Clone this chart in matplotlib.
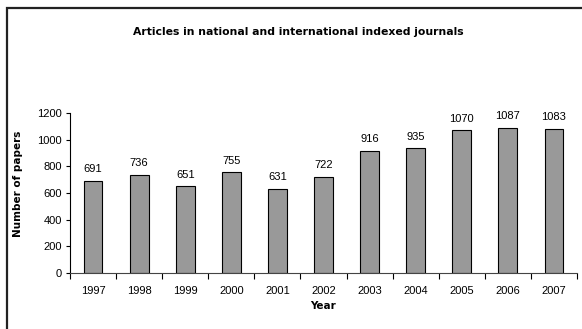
import matplotlib.pyplot as plt
import numpy as np
from matplotlib.patches import Rectangle

years = ["1997", "1998", "1999", "2000", "2001", "2002", "2003", "2004", "2005", "2006", "2007"]
papers = [691, 736, 651, 755, 631, 722, 916, 935, 1070, 1087, 1083]

W, H = 582, 329
fig = plt.figure(figsize=(W / 100, H / 100), dpi=100)

# outer chart frame (only top and left edges visible in the source)
fig.patches.append(Rectangle((6.5 / W, -0.1), 1.2, 1.1 - 8.5 / H,
                             transform=fig.transFigure, fill=False,
                             edgecolor="#222222", linewidth=1.6))

ax = fig.add_axes([70 / W, 1 - 273 / H, (577 - 70) / W, (273 - 113) / H])

x = np.arange(len(years))
ax.bar(x, papers, width=0.41, color="#999999", edgecolor="black", linewidth=0.8, zorder=2)

for xi, v in zip(x, papers):
    ax.text(xi, v + 50, str(v), ha="center", va="bottom", fontsize=8, family="Liberation Sans")

ax.set_xlim(-0.5, len(years) - 0.5)
ax.set_ylim(0, 1200)
ax.set_yticks(np.arange(0, 1201, 200))
ax.set_yticklabels([str(t) for t in range(0, 1201, 200)], fontsize=8, family="Liberation Sans")

ax.set_xticks(x)
ax.set_xticklabels(years, fontsize=8, family="Liberation Sans")
ax.set_xticks(np.arange(-0.5, len(years)), minor=True)
ax.tick_params(axis="x", which="major", length=0, pad=9)
ax.tick_params(axis="x", which="minor", length=4, direction="out", width=0.8)
ax.tick_params(axis="y", length=3, width=0.8, pad=3)

for s in ["top", "right"]:
    ax.spines[s].set_visible(False)
ax.spines["left"].set_linewidth(0.8)
ax.spines["bottom"].set_linewidth(0.8)
ax.spines["bottom"].set_color("#444444")

ax.set_ylabel("Number of papers", fontsize=7.5, fontweight="bold")
ax.yaxis.set_label_coords(-0.093, 0.555)
ax.set_xlabel("Year", fontsize=7.5, fontweight="bold", labelpad=4)

fig.text(298 / W, 1 - 32 / H, "Articles in national and international indexed journals",
         ha="center", va="center", fontsize=7.8, fontweight="bold")

fig.savefig("out.png", dpi=100)
